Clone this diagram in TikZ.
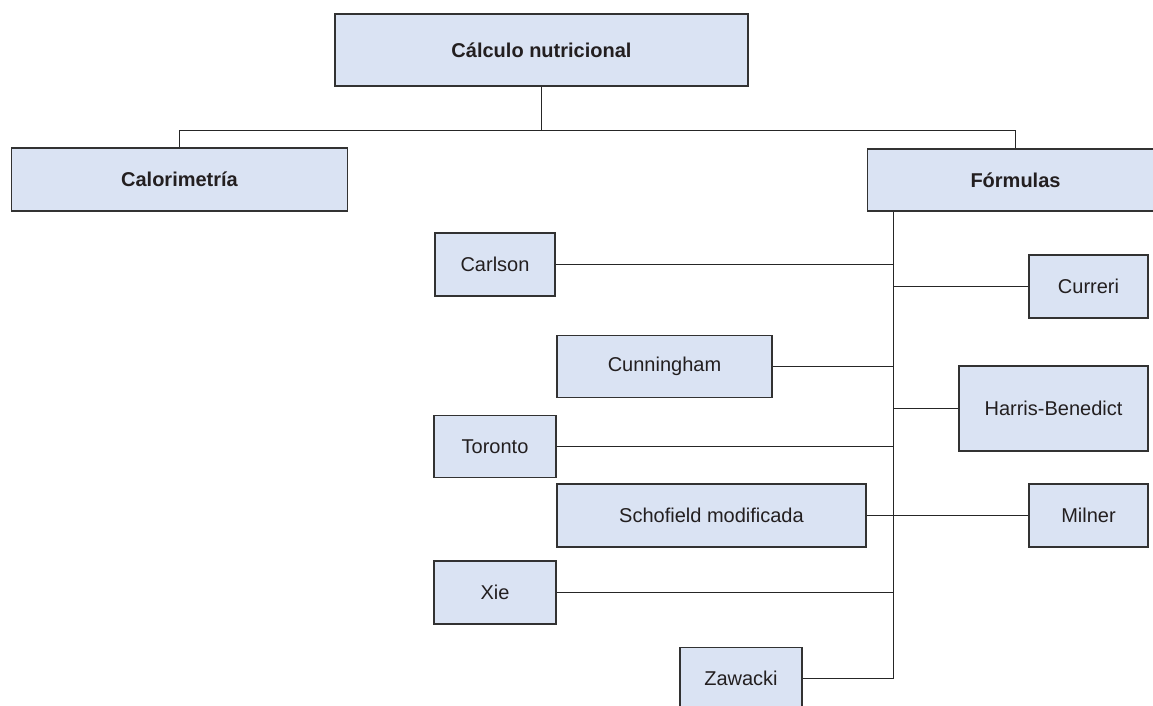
\documentclass[tikz,border=0pt]{standalone}
\usepackage{fontspec}
\setmainfont{Liberation Sans}
\definecolor{boxfill}{RGB}{218,227,243}
\definecolor{boxline}{RGB}{50,50,50}
\definecolor{txt}{RGB}{35,31,32}
\begin{document}
\begin{tikzpicture}[x=1pt,y=-1pt,
  box/.style={draw=boxline, line width=1.3pt, fill=boxfill, rectangle, inner sep=0pt,
    text=txt, font=\fontsize{20}{24}\selectfont},
  bbox/.style={box, font=\fontsize{20}{24}\selectfont\bfseries},
  link/.style={draw=black!85, line width=1.1pt}]
\useasboundingbox (0,0) rectangle (1153,705);
\clip (0,0) rectangle (1153,705);
\node[bbox, minimum width=413pt, minimum height=72pt] (top) at (541.5,50) {Cálculo nutricional};
\node[bbox, minimum width=336pt, minimum height=63pt] (calor) at (179.5,179.5) {Calorimetría};
\node[bbox, minimum width=296pt, minimum height=62pt] (form) at (1015.5,180) {Fórmulas};
\node[box, minimum width=120pt, minimum height=63pt] (carlson) at (495,264.5) {Carlson};
\node[box, minimum width=119pt, minimum height=63pt] (curreri) at (1088.5,286.5) {Curreri};
\node[box, minimum width=215pt, minimum height=62pt] (cunn) at (664.5,366.5) {Cunningham};
\node[box, minimum width=189pt, minimum height=85pt] (harris) at (1053.5,408.5) {Harris-Benedict};
\node[box, minimum width=122pt, minimum height=62pt] (toronto) at (495,446.5) {Toronto};
\node[box, minimum width=309pt, minimum height=63pt] (schof) at (711.5,515.5) {Schofield modificada};
\node[box, minimum width=119pt, minimum height=63pt] (milner) at (1088.5,515.5) {Milner};
\node[box, minimum width=122pt, minimum height=63pt] (xie) at (495,592.5) {Xie};
\node[box, minimum width=122pt, minimum height=62pt] (zaw) at (741,678.5) {Zawacki};
\coordinate (bar) at (541.5,130.5);
\coordinate (trunk) at (893.5,678.5);
\draw[link] (top.south) -- (bar);
\draw[link] (bar) -| (calor.north);
\draw[link] (bar) -| (form.north);
\draw[link] (form.south -| trunk) -- (trunk);
\draw[link] (carlson.east) -- (carlson.east -| trunk);
\draw[link] (curreri.west) -- (curreri.west -| trunk);
\draw[link] (cunn.east) -- (cunn.east -| trunk);
\draw[link] (harris.west) -- (harris.west -| trunk);
\draw[link] (toronto.east) -- (toronto.east -| trunk);
\draw[link] (schof.east) -- (milner.west);
\draw[link] (xie.east) -- (xie.east -| trunk);
\draw[link] (zaw.east) -- (trunk);
\end{tikzpicture}
\end{document}
